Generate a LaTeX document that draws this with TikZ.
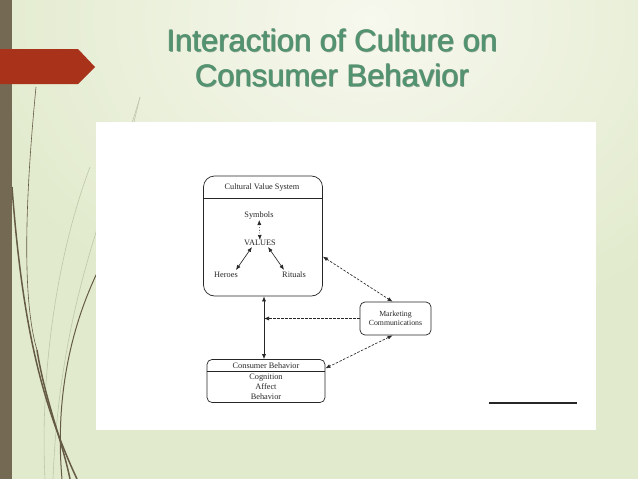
\documentclass[tikz,border=0pt]{standalone}
\usepackage{fontspec}
\setmainfont{Liberation Serif}
\newfontfamily\titlefont{Liberation Sans}
\usetikzlibrary{arrows.meta,shapes.misc}
\definecolor{bgc}{HTML}{E1EACC}
\definecolor{bgl}{HTML}{F7F8EE}
\definecolor{barc}{HTML}{746A54}
\definecolor{redc}{HTML}{A8321A}
\definecolor{grass}{HTML}{655B45}
\definecolor{grassl}{HTML}{BFC6AA}
\definecolor{titlec}{HTML}{52946F}
\definecolor{titles}{HTML}{3A6E55}
\definecolor{ink}{HTML}{262626}
\tikzset{
  box/.style={draw=ink, line width=0.7pt, fill=white},
  lbl/.style={text=ink, inner sep=0pt, font=\fontsize{8.3}{10}\selectfont},
  conn/.style={draw=ink, line width=0.65pt},
  onetip/.style={-{Latex[length=5pt,width=4pt]}},
  twotip/.style={{Latex[length=5pt,width=4pt]}-{Latex[length=5pt,width=4pt]}},
  dshline/.style={dash pattern=on 2.5pt off 1.5pt},
  ttl/.style={font=\titlefont\fontsize{31}{35}\selectfont, align=center, inner sep=0pt},
  ttlsh/.style={ttl, text=titles, opacity=0.55}
}
\begin{document}
\begin{tikzpicture}[x=1pt,y=-1pt]
\useasboundingbox (0,0) rectangle (638,479);
% background
\fill[bgc] (0,0) rectangle (638,479);
\begin{scope}
\clip (0,0) rectangle (638,479);
\shade[inner color=bgl, outer color=bgc] (370,20) ellipse (420 and 330);
% grass
\draw[grassl, line width=0.6pt] (140,97) .. controls (110,200) and (60,300) .. (53,479);
\draw[grassl, line width=0.6pt] (90,167) .. controls (55,260) and (40,380) .. (45,479);
\draw[grassl, line width=0.5pt] (140,97) .. controls (125,160) and (110,220) .. (97,273);
\draw[grass, line width=1pt] (97,273) .. controls (70,330) and (55,400) .. (62,479);
\draw[grass, line width=1.5pt] (12,187) .. controls (22,320) and (40,400) .. (77,479);
\draw[grass, line width=0.6pt] (36,87) .. controls (25,200) and (22,300) .. (37,350);
\draw[grass, line width=1.5pt] (37,350) .. controls (45,400) and (62,440) .. (70,479);
\end{scope}
% left bar
\fill[barc] (0,0) rectangle (12,479);
% red banner
\fill[redc] (0,49) -- (78,49) -- (95,67) -- (78,84) -- (0,84) -- cycle;
% title (outline-like shadow, then text)
\node[ttlsh] at (331.5,57.5) {Interaction of Culture on\\Consumer Behavior};
\node[ttlsh] at (332.5,57.5) {Interaction of Culture on\\Consumer Behavior};
\node[ttlsh] at (332.8,58.8) {Interaction of Culture on\\Consumer Behavior};
\node[ttl, text=titlec] (title) at (332,58) {Interaction of Culture on\\Consumer Behavior};
% white panel
\fill[white] (96,122) rectangle (596,430);
% Cultural value system
\node[box, rounded corners=11pt, minimum width=119pt, minimum height=120pt] (cvs) at (263,236) {};
\draw[conn] (cvs.west |- 0,198) -- (cvs.east |- 0,198);
\node[lbl] (cvst) at (262,188) {Cultural Value System};
\node[lbl] (sym) at (259,216) {Symbols};
\node[lbl] (val) at (260,243) {VALUES};
\node[lbl] (her) at (226,275) {Heroes};
\node[lbl] (rit) at (294,275) {Rituals};
\draw[conn, twotip, dotted] (sym) -- (val);
\draw[conn, twotip] ([xshift=8pt,yshift=-1pt]val.south west) -- ([xshift=-2pt,yshift=2pt]her.north east);
\draw[conn, twotip] ([xshift=-8pt,yshift=-1pt]val.south east) -- ([xshift=2pt,yshift=2pt]rit.north west);
% Marketing communications
\node[box, rounded corners=5pt, minimum width=71pt, minimum height=33pt, align=center, lbl, inner sep=0pt, font=\fontsize{7.8}{9.5}\selectfont] (mc) at (395.5,318.5) {Marketing\\Communications};
% Consumer behavior
\node[box, rounded corners=5pt, minimum width=118pt, minimum height=43pt] (cb) at (266,381) {};
\draw[conn] (cb.west |- 0,371.5) -- (cb.east |- 0,371.5);
\node[lbl] (cbt) at (266,366) {Consumer Behavior};
\node[lbl] (cog) at (266,377.5) {Cognition};
\node[lbl] (aff) at (266,387) {Affect};
\node[lbl] (beh) at (266,396.5) {Behavior};
% connectors
\coordinate (vx) at (264,0);
\draw[conn, twotip] (cvs.south -| vx) -- (cb.north -| vx);
\draw[conn, onetip, dshline] (mc.west) -- (mc.west -| vx);
\draw[conn, twotip, dshline] (cvs.-19) -- (mc.100);
\draw[conn, twotip, dshline] (mc.260) -- (cb.12);
% scale line
\coordinate (s1) at (489,403);
\coordinate (s2) at (577,403);
\draw[ink, line width=1.3pt] (s1) -- (s2);
\end{tikzpicture}
\end{document}
